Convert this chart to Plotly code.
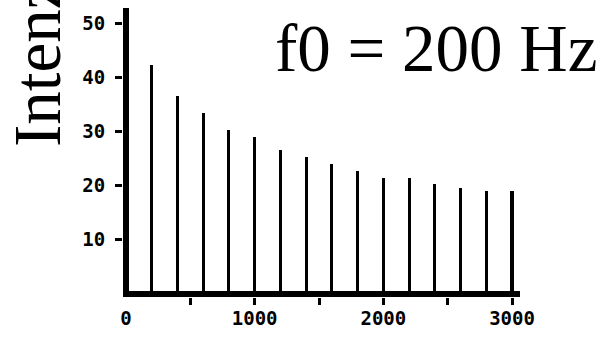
import plotly.graph_objects as go

# Data
freqs_hz = [200, 400, 600, 800, 1000, 1200, 1400, 1600, 1800, 2000, 2200, 2400, 2600, 2800, 3000]
intensity = [42.3, 36.5, 33.4, 30.3, 29.0, 26.6, 25.3, 24.0, 22.7, 21.4, 21.4, 20.3, 19.6, 19.0, 19.0]
x_minor_ticks = [500, 1000, 1500, 2000, 2500, 3000]
x_label_ticks = [0, 1000, 2000, 3000]
y_ticks = [10, 20, 30, 40, 50]
title_text = "f0 = 200 Hz"
ylabel_text = "Intenzita [dB]"

W, H = 609, 338
L, R, T, B = 123, 89, 8, 41
PL, PR, PT, PB = L, W - R, T, H - B

tick_font = dict(family="DejaVu Sans Mono", size=19, color="black", weight="bold")

fig = go.Figure()
fig.add_trace(go.Bar(x=freqs_hz, y=intensity, width=24,
                     marker=dict(color="black", line=dict(width=0)),
                     showlegend=False, hoverinfo="skip"))
fig.add_trace(go.Scatter(x=[], y=[], xaxis="x2", showlegend=False))

xr = [-23.3, 3062]
fig.update_layout(
    width=W, height=H,
    margin=dict(l=L, r=R, t=T, b=B, pad=0),
    paper_bgcolor="white", plot_bgcolor="white",
    bargap=0,
    xaxis=dict(range=xr, showgrid=False, showline=False,
               zeroline=True, zerolinecolor="black", zerolinewidth=6,
               ticks="outside", ticklen=7, tickwidth=3, tickcolor="black",
               tickmode="array", tickvals=x_minor_ticks, showticklabels=False),
    xaxis2=dict(range=xr, overlaying="x", side="bottom", anchor="y",
                showgrid=False, showline=False, zeroline=False,
                ticks="", tickmode="array", tickvals=x_label_ticks,
                ticktext=[str(v) for v in x_label_ticks],
                tickfont=tick_font, ticklabelstandoff=8),
    yaxis=dict(range=[-0.553, 52.77], showgrid=False, showline=False,
               zeroline=True, zerolinecolor="black", zerolinewidth=6,
               ticks="outside", ticklen=7, tickwidth=3, tickcolor="black",
               tickmode="array", tickvals=y_ticks, tickfont=tick_font,
               ticklabelstandoff=6),
)

def px_x(px):
    return (px - PL) / (PR - PL)

def px_y(py):
    return (PB - py) / (PB - PT)

fig.add_annotation(text=title_text, xref="paper", yref="paper",
                   x=px_x(273), y=px_y(87), xanchor="left", yanchor="bottom",
                   showarrow=False,
                   font=dict(family="Liberation Serif", size=67, color="black"))
fig.add_annotation(text=ylabel_text, xref="paper", yref="paper",
                   x=px_x(37), y=px_y(149), xanchor="center", yanchor="bottom",
                   textangle=-90, showarrow=False,
                   font=dict(family="Liberation Serif", size=67, color="black"))

fig.write_html("out.html")
